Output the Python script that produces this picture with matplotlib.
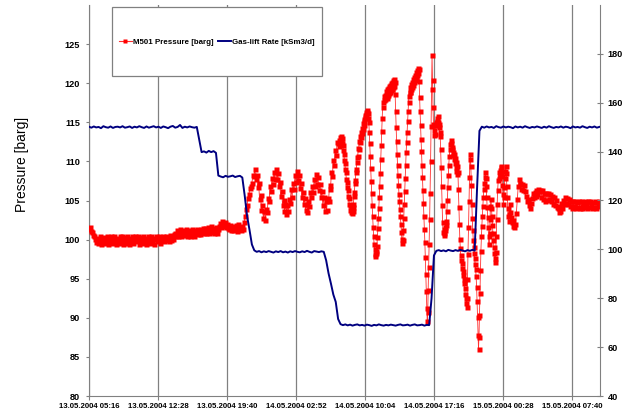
import datetime as dt

import matplotlib

matplotlib.use("Agg")
import matplotlib.dates as mdates
import matplotlib.pyplot as plt
import numpy as np
import pandas as pd
from matplotlib.lines import Line2D
from matplotlib.patches import Rectangle

plt.rcParams["font.family"] = ["Liberation Sans", "DejaVu Sans"]

T0 = dt.datetime(2004, 5, 13, 5, 16)
T_END_H = 53.33

# M501 pressure [barg], logged every 6 min (0-26 h)
p_a = [
    101.4, 101.6, 101.1, 101.0, 100.6, 100.5, 100.1, 99.7, 100.2, 99.6,
    100.1, 99.8, 100.5, 99.5, 100.0, 100.3, 99.6, 100.2, 99.9, 100.5,
    99.5, 100.1, 99.8, 100.4, 99.6, 100.0, 100.5, 99.8, 99.5, 100.2,
    100.0, 99.6, 100.4, 99.9, 100.5, 99.5, 100.1, 99.8, 100.3, 99.6,
    100.5, 100.0, 99.5, 100.2, 99.8, 100.4, 99.6, 100.1, 100.5, 99.8,
    99.9, 100.4, 99.5, 100.0, 100.3, 99.6, 100.5, 99.9, 100.1, 99.5,
    100.2, 99.8, 100.4, 100.0, 99.6, 100.5, 99.9, 100.2, 99.5, 100.1,
    100.4, 99.8, 100.0, 100.5, 99.6, 100.2, 99.9, 100.4, 99.8, 100.1,
    100.5, 100.0, 100.3, 99.8, 100.2, 100.6, 99.9, 100.3, 100.1, 100.7,
    100.9, 100.4, 101.2, 100.5, 100.9, 101.3, 100.4, 100.8, 101.2, 100.6,
    100.9, 101.3, 100.5, 100.8, 101.2, 100.4, 100.9, 101.3, 100.6, 100.9,
    100.5, 101.2, 100.8, 101.3, 100.7, 101.0, 100.7, 101.4, 101.0, 101.5,
    100.9, 101.5, 100.8, 101.4, 101.6, 100.9, 101.2, 101.7, 101.0, 101.3,
    100.8, 101.5, 101.2, 101.6, 100.9, 101.3, 101.8, 102.1, 101.6, 102.4,
    102.1, 101.7, 102.3, 101.6, 102.0, 101.5, 101.3, 101.9, 101.2, 101.6,
    101.2, 101.8, 101.3, 101.9, 101.1, 101.5, 102.0, 101.3, 101.6, 101.2,
    101.7, 101.4, 102.2, 103.0, 103.9, 104.4, 105.3, 105.8, 106.6, 106.9,
    107.2, 108.3, 108.1, 109.0, 107.8, 108.3, 106.7, 107.2, 105.2, 105.7,
    103.8, 104.4, 102.7, 103.6, 102.5, 103.9, 103.5, 105.3, 104.9, 106.8,
    106.2, 107.9, 107.1, 108.7, 107.7, 109.0, 107.8, 108.5, 106.9, 107.4,
    105.6, 106.2, 104.4, 105.1, 103.6, 104.6, 103.3, 104.4, 103.6, 105.2,
    104.7, 106.5, 105.5, 107.3, 106.5, 108.2, 107.4, 108.8, 107.6, 108.3,
    106.6, 107.3, 105.4, 106.1, 104.5, 105.3, 103.8, 104.6, 103.5, 105.0,
    104.3, 106.1, 105.5, 106.8, 106.1, 107.8, 106.8, 108.4, 107.1, 108.0,
    106.4, 107.1, 105.4, 106.2, 104.4, 105.4, 103.7, 104.9, 103.8, 105.3,
    104.9, 107.0, 106.5, 108.6, 108.1, 110.2, 109.6, 111.5, 110.8, 112.5,
]

# M501 pressure [barg], every 3 min (26-44 h)
p_b = [
    112.3, 112.0, 112.8, 112.5, 113.1, 112.7, 113.3, 112.9, 113.0, 112.4,
    112.1, 111.4, 111.0, 110.2, 109.8, 109.0, 108.6, 107.8, 107.4, 106.7,
    106.3, 105.6, 105.3, 104.6, 104.4, 103.8, 104.0, 103.5, 103.9, 103.4,
    103.7, 104.2, 104.6, 105.6, 106.1, 107.2, 107.6, 108.6, 109.0, 109.9,
    110.5, 110.7, 111.7, 111.6, 112.6, 112.5, 113.2, 113.1, 113.8, 113.6,
    114.3, 114.2, 114.9, 114.7, 115.4, 115.2, 115.9, 115.7, 116.3, 116.1,
    116.3, 116.6, 116.2, 115.6, 115.0, 113.8, 112.3, 110.7, 109.1, 107.5,
    106.0, 104.4, 103.0, 101.6, 100.5, 99.5, 98.8, 98.2, 97.9, 98.3,
    98.6, 99.2, 100.3, 101.5, 102.8, 104.0, 105.4, 106.9, 108.5, 110.3,
    112.1, 113.9, 115.6, 117.0, 117.6, 117.9, 118.3, 118.0, 118.5, 118.2,
    119.0, 118.1, 119.2, 118.3, 119.4, 118.5, 119.6, 118.7, 119.8, 118.9,
    120.0, 119.1, 120.2, 119.3, 120.4, 119.5, 120.6, 119.7, 120.2, 118.6,
    116.5, 114.4, 112.6, 111.0, 109.5, 108.2, 107.0, 105.8, 104.9, 103.9,
    103.0, 102.0, 101.0, 100.1, 99.6, 99.9, 101.2, 102.8, 104.5, 106.2,
    107.9, 109.6, 111.2, 112.5, 113.8, 115.2, 116.5, 117.6, 118.4, 118.9,
    119.5, 118.9, 119.9, 119.2, 120.2, 119.5, 120.5, 119.8, 120.8, 120.1,
    121.1, 120.4, 121.4, 120.7, 121.7, 121.0, 121.9, 121.3, 121.8, 120.3,
    118.2, 116.4, 114.6, 112.9, 111.3, 109.6, 108.0, 106.3, 104.7, 103.0,
    101.4, 99.7, 97.8, 95.6, 93.4, 91.3, 89.6, 90.8, 93.6, 96.5,
    99.4, 102.6, 106.0, 110.1, 114.5, 119.2, 123.6, 120.4, 117.0, 114.8,
    113.4, 114.0, 113.5, 114.6, 115.1, 114.7, 115.6, 115.2, 115.8, 115.0,
    114.4, 114.8, 113.7, 113.2, 111.6, 109.3, 106.8, 104.4, 102.3, 101.0,
    100.6, 101.3, 100.9, 101.6, 101.2, 101.9, 102.4, 103.6, 105.1, 106.7,
    108.2, 109.6, 110.7, 111.6, 112.2, 112.8, 112.4, 111.6, 111.9, 110.8,
    111.2, 110.3, 110.9, 109.8, 110.4, 109.3, 109.9, 108.8, 109.4, 108.4,
    108.7, 106.5, 104.2, 102.0, 100.1, 98.9, 98.0, 97.4, 97.0, 96.4,
    96.0, 95.5, 95.0, 94.4, 93.8, 93.1, 92.5, 91.9, 91.4, 92.5,
    95.0, 98.2, 101.6, 104.9, 108.0, 110.3, 111.0, 109.4, 107.0, 104.6,
    102.8, 101.2, 100.0, 99.1, 98.3, 97.6, 96.9, 96.2, 95.3, 94.0,
    92.2, 90.1, 87.8, 86.0, 87.6, 90.3, 93.2, 96.1, 98.6, 100.4,
    101.8, 103.0, 104.3, 105.4, 106.5, 107.3, 108.0, 108.6, 107.9, 106.8,
    105.5, 104.2, 102.9, 101.6, 100.4, 99.4, 100.8, 102.6, 104.3, 105.2,
    104.1, 103.0, 101.9, 100.9, 100.0, 99.1, 98.3, 97.6, 97.1, 98.4,
    100.5, 102.6, 104.6, 106.3, 107.6, 108.6, 107.9, 108.9, 108.3, 109.3,
    108.6, 109.4, 108.1, 107.0, 105.8, 104.6, 105.5, 106.7, 107.9, 108.8,
    109.4, 108.5, 106.9, 105.4, 104.0, 103.0, 102.4, 103.3, 104.6, 103.5,
]

# M501 pressure [barg], every 6 min (44 h - end)
p_c = [
    102.9, 102.2, 101.8, 102.5, 101.6, 102.0, 103.4, 105.2, 106.9, 107.7,
    107.3, 106.5, 107.1, 106.4, 107.0, 106.2, 105.6, 104.9, 105.2, 104.4,
    104.0, 104.7, 105.3, 105.9, 105.4, 106.1, 105.6, 106.3, 105.8, 106.5,
    106.2, 106.3, 105.5, 106.4, 105.2, 106.0, 105.0, 105.9, 105.1, 106.0,
    105.2, 105.8, 104.9, 105.6, 104.6, 105.4, 104.4, 105.1, 104.2, 104.0,
    103.5, 104.3, 103.7, 104.7, 104.1, 105.1, 104.5, 105.4, 104.7, 105.3,
    104.6, 105.2, 104.3, 105.0, 104.1, 104.9, 104.3, 105.0, 104.1, 104.8,
    104.2, 104.9, 104.1, 105.0, 104.3, 104.1, 104.8, 104.2, 105.0, 104.4,
    104.1, 104.9, 104.2, 105.0, 104.4, 104.0, 104.8, 104.2, 104.9, 104.1,
    104.8, 104.3, 104.9, 104.5,
]

# gas-lift rate [kSm3/d], every 15 min
q_gl = [
    150.2, 149.8, 150.3, 149.9, 150.1, 149.6, 150.4, 150.0,
    149.8, 150.3, 149.7, 150.1, 150.2, 149.9, 150.4, 149.8,
    150.0, 150.3, 149.7, 150.2, 149.9, 150.4, 150.0, 149.7,
    150.3, 149.8, 150.1, 150.4, 149.9, 150.2, 149.7, 150.3,
    150.0, 149.6, 150.2, 150.5, 149.8, 150.1, 150.9, 149.7,
    150.2, 149.9, 150.3, 150.0, 149.8, 150.1, 145.0, 139.8,
    140.1, 139.6, 140.3, 139.8, 140.2, 139.5, 130.2, 129.8,
    129.5, 130.1, 129.7, 129.9, 130.2, 129.6, 129.9, 130.1,
    129.4, 122.0, 113.6, 108.0, 102.0, 99.6, 99.0, 99.3,
    98.8, 99.2, 98.9, 99.3, 99.0, 98.7, 99.2, 98.9,
    99.3, 98.8, 99.1, 98.7, 99.2, 98.9, 99.3, 99.0,
    98.8, 99.2, 98.9, 99.4, 99.0, 98.7, 99.3, 99.1,
    98.9, 99.2, 99.0, 95.5, 90.2, 86.0, 81.5, 78.5,
    71.5, 69.4, 69.0, 69.3, 68.9, 69.2, 68.8, 69.1,
    69.3, 68.9, 69.1, 68.8, 69.2, 69.0, 68.7, 69.1,
    68.9, 69.3, 69.0, 68.8, 69.1, 68.9, 69.2, 69.0,
    68.8, 69.1, 69.3, 68.9, 69.0, 69.2, 68.8, 69.1,
    69.3, 68.9, 69.0, 69.2, 68.8, 69.1, 69.0, 80.0,
    97.5, 99.4, 99.7, 99.3, 99.6, 99.2, 99.8, 99.5,
    99.3, 99.7, 99.4, 99.8, 99.5, 99.2, 99.7, 99.4,
    99.8, 99.5, 125.0, 148.5, 150.2, 149.8, 150.3, 149.9,
    150.1, 149.7, 150.4, 150.0, 149.8, 150.3, 149.9, 150.2,
    150.0, 149.6, 150.3, 149.9, 150.2, 149.8, 150.4, 150.0,
    149.7, 150.1, 149.9, 150.3, 150.0, 149.7, 150.2, 149.8,
    150.4, 150.0, 149.7, 150.1, 149.9, 150.3, 149.8, 150.2,
    150.0, 149.6, 150.3, 149.9, 150.1, 149.8, 150.4, 150.0,
    149.7, 150.2, 149.9, 150.3, 149.8, 150.1,
]

# sample times, hours after T0 (logger intervals per block)
h_p = np.concatenate([
    np.arange(len(p_a)) * 0.1,
    26.0 + np.arange(len(p_b)) * 0.05,
    44.0 + np.arange(len(p_c)) * 0.1,
])
p_all = np.array(p_a + p_b + p_c)
h_q = np.arange(len(q_gl)) * 0.25

t_p = pd.Timestamp(T0) + pd.to_timedelta(h_p, unit="h")
t_q = pd.Timestamp(T0) + pd.to_timedelta(h_q, unit="h")

tick_times = [T0 + dt.timedelta(hours=7.2 * k) for k in range(8)]

fig = plt.figure(figsize=(6.3, 4.15), dpi=100)
ax = fig.add_axes([89 / 630, 1 - 396 / 415, 511 / 630, 391 / 415])
ax2 = ax.twinx()

ax.plot(t_p, p_all, color="#ff3030", lw=0.6, marker="s", ms=3.6,
        mfc="#ff0000", mec="none", zorder=3)
ax2.plot(t_q, q_gl, color="#000080", lw=1.4, zorder=3)

ax.set_xlim(T0, T0 + dt.timedelta(hours=T_END_H))
ax.set_ylim(80, 130)
ax.set_yticks(np.arange(80, 126, 5))
ax2.set_ylim(40, 200)
ax2.set_yticks(np.arange(40, 181, 20))

ax.set_xticks(tick_times)
ax.xaxis.set_major_formatter(mdates.DateFormatter("%d.%m.%Y %H:%M"))
ax.grid(axis="x", color="#808080", lw=0.9)

gray = "#808080"
for a in (ax, ax2):
    a.spines["top"].set_visible(False)
ax.spines["right"].set_visible(False)
ax2.spines["left"].set_visible(False)
ax2.spines["bottom"].set_visible(False)
ax.spines["left"].set_color(gray)
ax.spines["bottom"].set_color(gray)
ax2.spines["right"].set_color(gray)

ax.tick_params(axis="x", direction="out", length=3, color=gray, pad=2,
               labelsize=5.6)
ax.tick_params(axis="y", direction="out", length=2.5, color=gray, pad=4,
               labelsize=6.6)
ax2.tick_params(axis="y", direction="inout", length=5, color=gray, pad=3,
                labelsize=6.6)
for lab in ax.get_xticklabels() + ax.get_yticklabels() + ax2.get_yticklabels():
    lab.set_fontweight("bold")

fig.text(22 / 630, 1 - 164 / 415, "Pressure [barg]", rotation=90,
         ha="center", va="center", fontsize=10)

# legend box
fig.patches.append(Rectangle((112 / 630, 1 - 76 / 415), 210 / 630, 69 / 415,
                             transform=fig.transFigure, facecolor="white",
                             edgecolor=gray, lw=0.9, zorder=5))
handles = [
    Line2D([], [], color="#ff3030", lw=0.8, marker="s", ms=3.0,
           mfc="#ff0000", mec="none"),
    Line2D([], [], color="#000080", lw=1.4),
]
fig.legend(handles, ["M501 Pressure [barg]", "Gas-lift Rate [kSm3/d]"],
           loc="center", bbox_to_anchor=(217 / 630, 1 - 42 / 415), ncol=2,
           frameon=False, prop={"size": 5.7, "weight": "bold"},
           handlelength=1.6, handletextpad=0.2, columnspacing=0.5)

fig.savefig("out.png", dpi=100)
